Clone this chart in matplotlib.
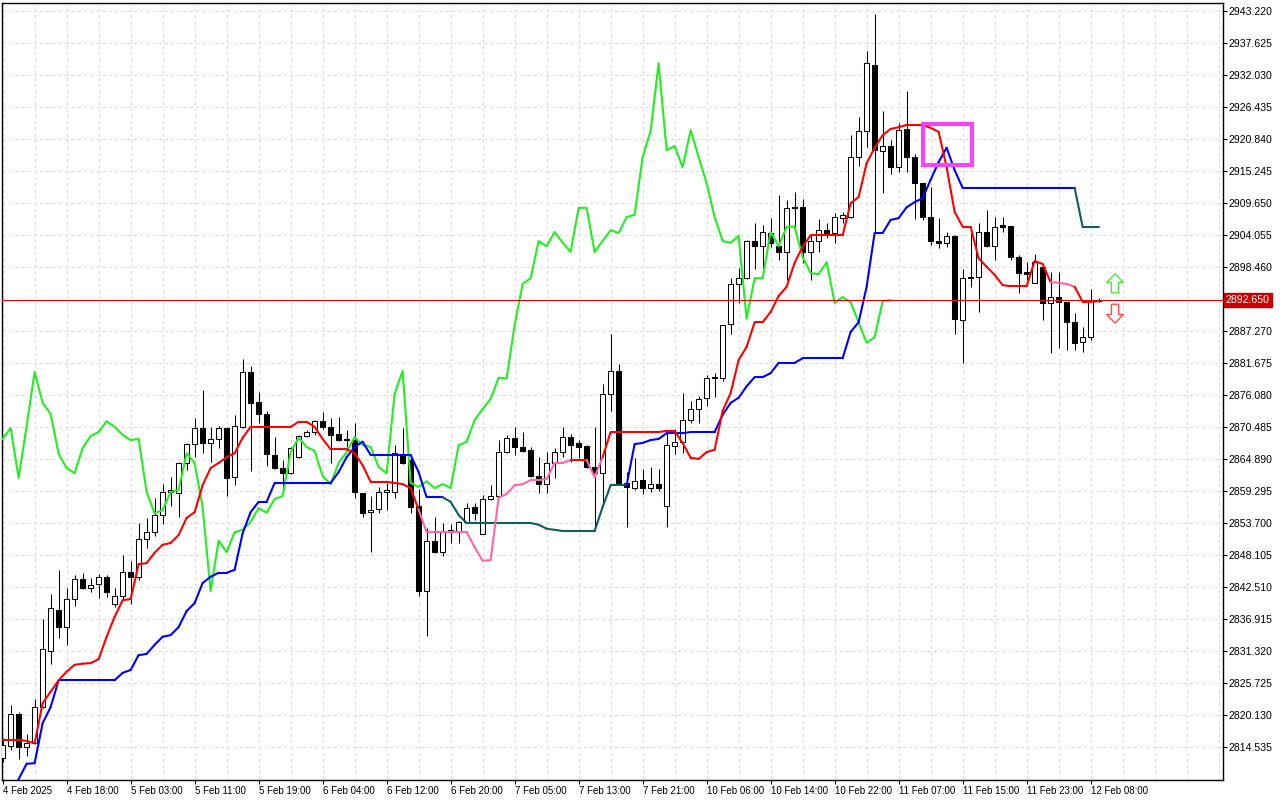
import numpy as np
import matplotlib
matplotlib.use("Agg")
import matplotlib.pyplot as plt
import matplotlib.transforms as mtransforms
from matplotlib.collections import LineCollection
from matplotlib.patches import Rectangle, Polygon

plt.rcParams['font.family'] = ['Liberation Sans', 'DejaVu Sans']

# ---- XAUUSD H1 bars, 4 Feb 2025 10:00 -> 12 Feb 2025 08:00 ----
opens = [
    2812.6, 2814.7, 2820.3, 2814.5, 2815.2, 2821.5, 2831.3, 2838.5, 2835.5, 2840.4,
    2843.9, 2842.3, 2843.0, 2844.3, 2839.5, 2840.9, 2845.1, 2844.3, 2850.9, 2852.1,
    2855.1, 2859.1, 2858.9, 2864.2, 2867.5, 2870.3, 2867.7, 2868.4, 2870.3, 2861.7,
    2870.5, 2880.1, 2874.9, 2872.8, 2865.6, 2863.3, 2862.4, 2865.2, 2868.9, 2869.6,
    2871.5, 2870.5, 2869.3, 2868.2, 2868.2, 2858.9, 2855.6, 2856.2, 2859.1, 2859.1,
    2865.6, 2864.7, 2856.7, 2841.8, 2850.6, 2848.6, 2852.3, 2852.3, 2853.9, 2856.5,
    2851.8, 2857.9, 2858.4, 2866.1, 2868.6, 2867.0, 2866.5, 2861.9, 2860.5, 2864.2,
    2866.1, 2868.7, 2867.7, 2867.2, 2863.5, 2862.4, 2876.3, 2880.3, 2860.7, 2859.8,
    2861.2, 2859.8, 2860.5, 2856.7, 2867.2, 2867.9, 2871.7, 2873.6, 2875.6, 2879.2,
    2879.0, 2888.5, 2895.5, 2896.5, 2903.0, 2902.1, 2904.4, 2902.1, 2901.1, 2908.9,
    2908.9, 2901.1, 2903.0, 2904.9, 2904.4, 2907.0, 2907.2, 2917.7, 2922.2, 2933.8,
    2918.7, 2919.6, 2915.9, 2922.6, 2917.7, 2913.1, 2907.2, 2903.0, 2902.7, 2903.9,
    2889.2, 2896.7, 2896.7, 2904.6, 2902.1, 2905.8, 2905.6, 2900.2, 2897.6, 2895.7,
    2898.5, 2892.2, 2893.2, 2892.3, 2888.8, 2885.3, 2886.2, 2892.5]
highs = [
    2816.1, 2821.9, 2820.6, 2816.8, 2822.9, 2836.9, 2841.3, 2845.5, 2842.3, 2844.6,
    2845.0, 2844.1, 2844.8, 2844.6, 2842.3, 2848.1, 2847.1, 2853.7, 2854.6, 2858.1,
    2860.5, 2861.7, 2864.4, 2867.7, 2872.1, 2876.9, 2870.5, 2870.7, 2870.5, 2872.6,
    2882.4, 2881.2, 2876.6, 2873.3, 2868.7, 2864.7, 2867.0, 2869.0, 2870.0, 2871.7,
    2873.1, 2872.1, 2872.2, 2870.0, 2871.2, 2859.0, 2858.4, 2860.0, 2860.7, 2867.3,
    2870.3, 2865.2, 2859.6, 2852.8, 2854.8, 2853.7, 2853.5, 2854.0, 2857.2, 2857.2,
    2858.6, 2860.3, 2868.2, 2869.1, 2870.5, 2869.6, 2867.0, 2865.2, 2866.1, 2866.8,
    2870.5, 2869.3, 2868.2, 2867.3, 2870.5, 2878.0, 2886.8, 2881.5, 2862.6, 2865.1,
    2863.1, 2863.5, 2863.1, 2869.4, 2870.1, 2876.4, 2875.0, 2875.9, 2879.6, 2879.9,
    2888.4, 2896.5, 2898.3, 2903.2, 2906.2, 2905.8, 2907.0, 2911.0, 2910.2, 2911.6,
    2910.3, 2904.0, 2906.9, 2906.2, 2907.9, 2908.1, 2921.5, 2924.7, 2936.2, 2942.7,
    2925.7, 2920.7, 2923.6, 2929.2, 2918.2, 2913.2, 2912.4, 2907.0, 2904.6, 2904.0,
    2898.1, 2904.4, 2906.2, 2908.4, 2907.2, 2907.2, 2905.7, 2900.6, 2899.3, 2900.7,
    2898.6, 2897.6, 2897.6, 2892.4, 2890.4, 2888.0, 2894.6, 2893.0]
lows = [
    2811.9, 2814.0, 2812.4, 2813.0, 2815.0, 2821.3, 2829.0, 2833.6, 2832.4, 2839.2,
    2842.2, 2841.6, 2840.6, 2840.8, 2839.0, 2840.4, 2839.5, 2843.7, 2849.3, 2851.4,
    2853.5, 2856.7, 2854.8, 2863.0, 2865.2, 2865.9, 2864.4, 2866.8, 2858.4, 2860.3,
    2870.3, 2862.8, 2871.2, 2863.7, 2863.1, 2859.6, 2862.3, 2865.1, 2868.8, 2869.1,
    2870.1, 2864.2, 2868.0, 2867.0, 2858.1, 2854.8, 2848.6, 2855.4, 2856.0, 2858.1,
    2864.1, 2855.4, 2840.9, 2833.9, 2848.5, 2847.9, 2850.2, 2850.2, 2853.8, 2854.2,
    2851.7, 2857.8, 2858.3, 2866.0, 2865.6, 2866.1, 2861.8, 2858.9, 2858.9, 2861.6,
    2865.2, 2864.4, 2865.1, 2863.3, 2852.5, 2856.9, 2873.3, 2860.6, 2853.0, 2859.5,
    2858.8, 2859.1, 2859.3, 2853.0, 2865.8, 2865.9, 2871.2, 2871.2, 2874.2, 2875.7,
    2878.5, 2886.8, 2892.2, 2896.4, 2898.1, 2898.1, 2902.0, 2899.7, 2896.2, 2904.6,
    2899.2, 2896.2, 2901.1, 2903.5, 2902.7, 2906.2, 2907.1, 2916.1, 2919.4, 2904.4,
    2911.4, 2914.7, 2915.1, 2915.1, 2906.9, 2906.7, 2902.3, 2901.8, 2902.0, 2886.8,
    2881.7, 2895.0, 2890.6, 2902.0, 2899.7, 2904.6, 2899.7, 2893.9, 2896.2, 2895.6,
    2889.2, 2883.4, 2884.3, 2884.0, 2884.0, 2883.6, 2885.7, 2892.3]
closes = [
    2814.9, 2820.3, 2814.5, 2815.2, 2821.5, 2831.7, 2838.8, 2835.5, 2840.4, 2843.9,
    2842.3, 2842.9, 2844.3, 2841.6, 2840.9, 2845.1, 2844.3, 2850.9, 2852.1, 2855.1,
    2859.1, 2859.5, 2864.2, 2867.5, 2870.3, 2867.7, 2868.4, 2870.3, 2861.6, 2870.7,
    2880.1, 2874.7, 2872.8, 2865.8, 2863.3, 2862.4, 2866.8, 2868.9, 2869.6, 2871.5,
    2870.5, 2869.1, 2868.2, 2868.4, 2859.1, 2855.4, 2856.0, 2859.1, 2859.5, 2865.9,
    2864.2, 2856.5, 2841.8, 2850.6, 2848.6, 2852.1, 2852.5, 2853.9, 2856.3, 2855.5,
    2857.9, 2858.4, 2866.1, 2868.6, 2867.0, 2866.3, 2861.9, 2860.5, 2864.2, 2866.1,
    2868.7, 2867.3, 2867.0, 2863.5, 2862.4, 2876.3, 2880.3, 2860.7, 2860.0, 2861.0,
    2859.8, 2860.5, 2859.8, 2867.3, 2867.9, 2871.7, 2873.6, 2875.4, 2879.1, 2879.0,
    2888.3, 2895.5, 2896.5, 2903.0, 2902.1, 2904.6, 2902.7, 2901.1, 2908.8, 2908.8,
    2901.1, 2903.0, 2904.9, 2904.4, 2907.2, 2907.6, 2917.7, 2922.2, 2934.1, 2918.9,
    2919.6, 2915.9, 2922.4, 2917.7, 2913.1, 2907.2, 2903.0, 2902.7, 2903.9, 2889.4,
    2896.5, 2896.5, 2904.6, 2902.1, 2905.5, 2905.5, 2900.2, 2897.4, 2897.2, 2899.3,
    2892.2, 2893.2, 2892.3, 2888.8, 2885.2, 2886.2, 2892.5, 2892.65]

# red line (tenkan) and blue line (kijun), one value per bar
tenkan = [
    2815.8, 2815.8, 2815.8, 2815.6, 2815.2, 2822.2, 2824.2, 2826.2, 2827.7, 2828.9,
    2829.1, 2829.2, 2829.9, 2833.8, 2837.3, 2840.2, 2840.4, 2846.5, 2846.7, 2848.5,
    2849.9, 2850.2, 2851.6, 2854.6, 2855.6, 2860.3, 2863.3, 2864.2, 2865.2, 2865.9,
    2868.6, 2870.5, 2870.5, 2870.5, 2870.5, 2870.5, 2870.5, 2871.4, 2871.4, 2870.5,
    2868.4, 2866.6, 2866.6, 2866.6, 2865.9, 2863.8, 2860.9, 2860.9, 2860.9, 2860.7,
    2860.5, 2859.8, 2856.0, 2852.1, 2852.1, 2852.1, 2852.1, 2852.1, 2852.1, 2849.5,
    2847.1, 2847.2, 2858.1, 2858.8, 2860.3, 2860.5, 2861.2, 2861.2, 2861.4, 2864.2,
    2864.2, 2864.7, 2864.7, 2864.7, 2861.7, 2865.2, 2869.6, 2869.6, 2869.6, 2869.6,
    2869.6, 2869.6, 2869.6, 2869.8, 2869.8, 2867.7, 2865.1, 2864.9, 2866.1, 2866.5,
    2873.3, 2876.4, 2882.2, 2884.5, 2888.8, 2888.8, 2890.6, 2893.4, 2895.0, 2899.2,
    2902.0, 2904.0, 2904.0, 2904.0, 2904.0, 2904.0, 2909.6, 2910.7, 2916.6, 2919.3,
    2921.5, 2922.6, 2922.9, 2923.3, 2923.3, 2923.3, 2922.8, 2922.1, 2915.9, 2908.1,
    2905.5, 2905.5, 2900.0, 2898.5, 2897.1, 2895.3, 2895.1, 2895.1, 2895.1, 2899.5,
    2899.0, 2895.8, 2895.7, 2895.5, 2895.0, 2892.4, 2892.4, 2892.5]
kijun = [
    2803.0, 2806.5, 2808.9, 2811.6, 2811.7, 2818.7, 2821.5, 2826.2, 2826.2, 2826.2,
    2826.2, 2826.2, 2826.2, 2826.2, 2826.2, 2827.5, 2828.0, 2830.6, 2830.8, 2832.4,
    2833.8, 2834.1, 2835.5, 2838.3, 2839.7, 2843.2, 2844.3, 2845.0, 2845.0, 2845.5,
    2851.9, 2855.6, 2857.4, 2857.4, 2860.7, 2860.7, 2860.7, 2860.7, 2860.7, 2860.7,
    2860.7, 2860.7, 2862.6, 2865.2, 2867.0, 2867.9, 2865.6, 2865.6, 2865.6, 2865.6,
    2865.6, 2865.6, 2862.6, 2858.2, 2858.2, 2858.2, 2857.4, 2855.1, 2853.7, 2853.7,
    2853.7, 2853.7, 2853.7, 2853.7, 2853.7, 2853.7, 2853.7, 2853.4, 2852.7, 2852.5,
    2852.3, 2852.3, 2852.3, 2852.3, 2852.3, 2856.5, 2860.3, 2860.3, 2860.3, 2867.5,
    2867.7, 2868.2, 2868.4, 2869.4, 2869.4, 2869.4, 2869.6, 2869.6, 2869.6, 2869.6,
    2872.6, 2874.7, 2875.6, 2877.6, 2879.2, 2879.2, 2879.9, 2881.7, 2881.7, 2881.7,
    2882.5, 2882.5, 2882.5, 2882.5, 2882.5, 2882.5, 2887.1, 2888.8, 2895.0, 2904.4,
    2904.4, 2906.7, 2907.0, 2908.9, 2909.8, 2910.5, 2913.7, 2916.8, 2919.3, 2915.4,
    2912.3, 2912.3, 2912.3, 2912.3, 2912.3, 2912.3, 2912.3, 2912.3, 2912.3, 2912.3,
    2912.3, 2912.3, 2912.3, 2912.3, 2912.3, 2905.5, 2905.5, 2905.5]
chikou_shift = 26   # close plotted 26 bars back

# bar ranges where the lines switch colour
tenkan_pink = [(52, 71), (73, 75), (131, 134)]
kijun_teal = [(55, 78), (134, 137)]

last_price = 2892.65
price_label = "2892.650"
y_ticks = [2943.220, 2937.625, 2932.030, 2926.435, 2920.840, 2915.245, 2909.650,
           2904.055, 2898.460, 2887.270, 2881.675, 2876.080, 2870.485, 2864.890,
           2859.295, 2853.700, 2848.105, 2842.510, 2836.915, 2831.320, 2825.725,
           2820.130, 2814.535]
x_tick_bars = [0, 8, 16, 24, 32, 40, 48, 56, 64, 72, 80, 88, 96, 104, 112, 120, 128, 136]
x_tick_labels = ["4 Feb 2025", "4 Feb 18:00", "5 Feb 03:00", "5 Feb 11:00", "5 Feb 19:00",
                 "6 Feb 04:00", "6 Feb 12:00", "6 Feb 20:00", "7 Feb 05:00", "7 Feb 13:00",
                 "7 Feb 21:00", "10 Feb 06:00", "10 Feb 14:00", "10 Feb 22:00", "11 Feb 07:00",
                 "11 Feb 15:00", "11 Feb 23:00", "12 Feb 08:00"]
# highlight box (bar range, price range)
box_bars = (115.0, 121.2)
box_prices = (2916.3, 2923.5)
arrow_bar = 139.05
arrow_up_price = 2895.6
arrow_down_price = 2890.3


def colored_line(ax, xs, ys, base, alt, alt_ranges, lw=1.5, z=4):
    segs, cols = [], []
    for i in range(len(xs) - 1):
        segs.append([(xs[i], ys[i]), (xs[i + 1], ys[i + 1])])
        c = base
        for a, b in alt_ranges:
            if a <= i < b:
                c = alt
        cols.append(c)
    lc = LineCollection(segs, colors=cols, linewidths=lw, zorder=z,
                        capstyle='round', joinstyle='round')
    ax.add_collection(lc)


def arrow_poly(cx, cy, up, w=2.1, shaft=0.9, h=3.3, head=1.5):
    s = 1 if up else -1
    tip = cy + s * h / 2
    neck = tip - s * head
    tail = cy - s * h / 2
    return [(cx, tip), (cx + w / 2, neck), (cx + shaft / 2, neck), (cx + shaft / 2, tail),
            (cx - shaft / 2, tail), (cx - shaft / 2, neck), (cx - w / 2, neck)]


fig = plt.figure(figsize=(12.8, 8), dpi=100)
ax = fig.add_axes([2.3 / 1280, 20.5 / 800, 1220.4 / 1280, 777.0 / 800])

n = len(closes)
x = np.arange(n)
o = np.array(opens); c = np.array(closes)
up = c >= o

# wicks
ax.vlines(x, lows, highs, color='black', linewidth=0.75, zorder=2)
# bodies
bottoms = np.minimum(o, c)
heights = np.maximum(np.abs(c - o), 0.06)
ax.bar(x, heights, bottom=bottoms, width=0.62,
       color=np.where(up, 'white', 'black'), edgecolor='black', linewidth=0.75, zorder=3)

# chikou (close shifted back)
ax.plot(x[:n - chikou_shift], closes[chikou_shift:], color='#22EE22', lw=1.5, zorder=4,
        solid_joinstyle='round')
colored_line(ax, x, kijun, '#0000FF', '#0F5E5E', kijun_teal)
colored_line(ax, x, tenkan, '#FF0000', '#FF66AA', tenkan_pink)

# current price line + label
ax.axhline(last_price, color='#E00000', lw=0.8, zorder=5)
trans = mtransforms.blended_transform_factory(ax.transAxes, ax.transData)
ax.text(1.0 + 3 / 1220, last_price, price_label, transform=trans, ha='left', va='center',
        fontsize=7.6, color='white', clip_on=False, zorder=10,
        bbox=dict(boxstyle='square,pad=0.2', fc='#CC0000', ec='#CC0000'))

# highlight box
ax.add_patch(Rectangle((box_bars[0], box_prices[0]), box_bars[1] - box_bars[0],
                       box_prices[1] - box_prices[0], fill=False, ec='#F545F5', lw=3.0, zorder=8))
# arrows
ax.add_patch(Polygon(arrow_poly(arrow_bar, arrow_up_price, True), closed=True,
                     fc='white', ec='#55DD44', lw=1.0, zorder=8))
ax.add_patch(Polygon(arrow_poly(arrow_bar, arrow_down_price, False), closed=True,
                     fc='white', ec='#FF4A4A', lw=1.0, zorder=8))

# axes, grid
ax.set_xlim(-0.04, 152.51)
ax.set_ylim(2808.85, 2944.71)
ax.set_xticks(x_tick_bars)
ax.set_xticklabels(x_tick_labels, ha='left', fontsize=7.0)
ax.set_xticks(np.arange(0, 153, 4), minor=True)
ax.set_yticks(y_ticks)
ax.set_yticklabels([f"{v:.3f}" for v in y_ticks], fontsize=7.6)
ax.yaxis.tick_right()
ax.tick_params(axis='y', which='both', direction='out', length=3, width=0.8, pad=1)
ax.tick_params(axis='x', which='major', direction='out', length=3, width=0.8, pad=2)
ax.tick_params(axis='x', which='minor', length=0)
ax.grid(True, which='both', color='#DCDCDC', linestyle=(0, (3, 3)), linewidth=0.75, zorder=0)
ax.set_axisbelow(True)
for sp in ax.spines.values():
    sp.set_color('black')
    sp.set_linewidth(1.0)

fig.savefig('out.png', dpi=100)
